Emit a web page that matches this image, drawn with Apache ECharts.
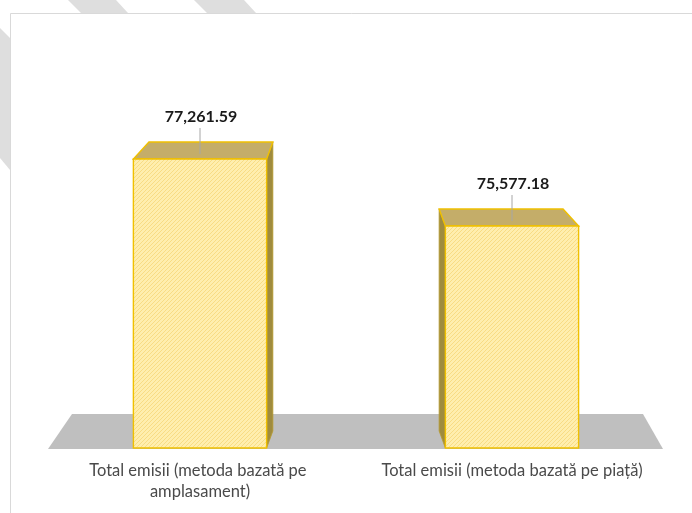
<!DOCTYPE html>
<html>
<head>
<meta charset="utf-8">
<script src="https://cdn.jsdelivr.net/npm/echarts@6/dist/echarts.min.js"></script>
<style>
  html, body { margin: 0; padding: 0; background: #fff; }
  #chart { width: 692px; height: 513px; }
</style>
</head>
<body>
<div id="chart"></div>
<script>
// date din grafic
const categories = ["Total emisii (metoda bazată pe amplasament)", "Total emisii (metoda bazată pe piață)"];
const emissions = [77261.59, 75577.18];
const yMin = 70000;
const yMax = 78000;

const DEPTH = 17;   // adancimea barelor (px)
const K = 0.07;     // micsorare spre punctul de fuga
const BAR_RATIO = 0.427;

// hasura diagonala pentru fata barelor
const hatch = document.createElement("canvas");
hatch.width = 4;
hatch.height = 4;
const hctx = hatch.getContext("2d");
hctx.fillStyle = "#FFEEAE";
hctx.fillRect(0, 0, 4, 4);
hctx.strokeStyle = "#F8DC84";
hctx.lineWidth = 1;
hctx.beginPath();
hctx.moveTo(-1, 5); hctx.lineTo(5, -1);
hctx.moveTo(-1, 1); hctx.lineTo(1, -1);
hctx.moveTo(3, 5); hctx.lineTo(5, 3);
hctx.stroke();

const fmt = (v) => v.toLocaleString("en-US", {minimumFractionDigits: 2, maximumFractionDigits: 2});

function renderFloor(params, api) {
	const cs = params.coordSys;
	const yF = api.coord([0, yMin])[1] + 1;
	const xl = cs.x + 4, xr = cs.x + cs.width - 5;
	return {
		type: "polygon",
		shape: {points: [[xl, yF], [xr, yF], [xr - 20, yF - 35], [xl + 24, yF - 35]]},
		style: {fill: "#BFBFBF"},
	};
}

function renderBar(params, api) {
	const cs = params.coordSys;
	const vx = cs.x + cs.width / 2;
	const cat = api.value(0);
	const val = api.value(1);
	const top = api.coord([cat, val]);
	const base = api.coord([cat, yMin]);
	const w = api.size([1, 0])[0] * BAR_RATIO;
	const x0 = top[0] - w / 2, x1 = top[0] + w / 2;
	const yT = top[1], yB = base[1];
	const back = (x, y) => [x + K * (vx - x), y - DEPTH];

	const border = {stroke: "#F0C000", lineWidth: 1.4};
	const children = [];

	// fata laterala (dreapta pentru bara din stanga, stanga pentru cea din dreapta)
	const sx = top[0] < vx ? x1 : x0;
	children.push({
		type: "polygon",
		shape: {points: [[sx, yT], back(sx, yT), back(sx, yB), [sx, yB]]},
		style: {fill: "#9F8B3E", stroke: "#B89C2E", lineWidth: 0.8},
	});
	// fata de sus
	children.push({
		type: "polygon",
		shape: {points: [[x0, yT], [x1, yT], back(x1, yT), back(x0, yT)]},
		style: Object.assign({fill: "#C4AD69"}, border),
	});
	// fata din fata
	children.push({
		type: "rect",
		shape: {x: x0, y: yT, width: w, height: yB - yT},
		style: Object.assign({fill: {image: hatch, repeat: "repeat"}}, border),
	});
	// linie de legatura + eticheta
	children.push({
		type: "line",
		shape: {x1: top[0], y1: yT - 31, x2: top[0], y2: yT - 5},
		style: {stroke: "#A6A6A6", lineWidth: 1},
	});
	children.push({
		type: "text",
		style: {
			text: fmt(val),
			x: top[0] + 1,
			y: yT - 42,
			align: "center",
			verticalAlign: "middle",
			font: "bold 16px Lato",
			fill: "#1A1A1A",
		},
	});
	return {type: "group", children: children};
}

const chart = echarts.init(document.getElementById("chart"));

const option = {
	animation: false,
	backgroundColor: "transparent",
	graphic: [
		{type: "polygon", z: -10, shape: {points: [[68, 0], [116, 0], [128, 13], [81, 13]]}, style: {fill: "#DEDEDE"}},
		{type: "polygon", z: -10, shape: {points: [[194, 0], [244, 0], [256, 13], [207, 13]]}, style: {fill: "#DEDEDE"}},
		{type: "polygon", z: -10, shape: {points: [[0, 28], [10, 38], [10, 170], [0, 158]]}, style: {fill: "#DEDEDE"}},
		{type: "rect", z: -9, shape: {x: 10.5, y: 13.5, width: 720, height: 560}, style: {fill: "#fff", stroke: "#D9D9D9", lineWidth: 1}},
	],
	grid: {left: 44, right: 24, top: 129.6, bottom: 65, containLabel: false},
	xAxis: {
		type: "category",
		data: categories,
		axisLine: {show: false},
		axisTick: {show: false},
		axisLabel: {
			interval: 0,
			margin: 12,
			width: 300,
			overflow: "break",
			lineHeight: 21,
			fontFamily: "Lato",
			fontSize: 16.5,
			color: "#4A4A4A",
		},
	},
	yAxis: {
		type: "value",
		min: yMin,
		max: yMax,
		show: false,
		splitLine: {show: false},
	},
	series: [
		{
			type: "custom",
			z: 1,
			silent: true,
			renderItem: renderFloor,
			data: [[0, yMin]],
		},
		{
			type: "custom",
			z: 2,
			renderItem: renderBar,
			encode: {x: 0, y: 1},
			data: emissions.map((v, i) => [i, v]),
		},
	],
};

chart.setOption(option);
</script>
</body>
</html>
